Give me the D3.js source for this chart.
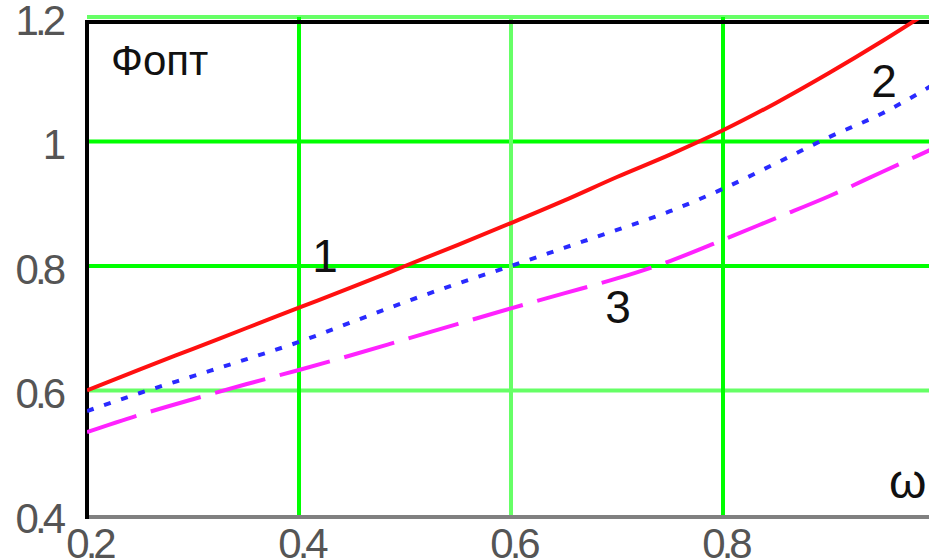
<!DOCTYPE html>
<html>
<head>
<meta charset="utf-8">
<script src="https://cdn.jsdelivr.net/npm/d3@7"></script>
<style>
  html, body { margin: 0; padding: 0; background: #ffffff; }
  svg { display: block; }
  text { font-family: "Liberation Sans", Arial, sans-serif; }
</style>
</head>
<body>
<svg id="chart" width="929" height="558"></svg>
<script>
// ---- data ----
const xValues = [0.2, 0.25, 0.3, 0.35, 0.4, 0.45, 0.5, 0.55, 0.6, 0.65, 0.7, 0.75, 0.8, 0.85, 0.9, 0.95, 1.0];
const series1 = [0.600, 0.634, 0.667, 0.700, 0.733, 0.766, 0.800, 0.834, 0.869, 0.905, 0.943, 0.979, 1.018, 1.062, 1.110, 1.161, 1.215];
const series2 = [0.567, 0.596, 0.623, 0.650, 0.678, 0.710, 0.742, 0.772, 0.800, 0.829, 0.858, 0.888, 0.924, 0.965, 1.007, 1.045, 1.093];
const series3 = [0.533, 0.561, 0.586, 0.610, 0.633, 0.657, 0.682, 0.707, 0.732, 0.756, 0.780, 0.808, 0.842, 0.877, 0.912, 0.951, 0.990];
const seriesNames = ["1", "2", "3"];
const xTicks = [0.2, 0.4, 0.6, 0.8];
const xTickLabels = ["0.2", "0.4", "0.6", "0.8"];
const yTicks = [0.4, 0.6, 0.8, 1.0, 1.2];
const yTickLabels = ["0.4", "0.6", "0.8", "1", "1.2"];
const yAxisTitle = "Фопт";
const xAxisTitle = "ω";

// ---- layout ----
const svg = d3.select("#chart");
const x = d3.scaleLinear().domain([0.2, 1.0]).range([87, 935]);
const y = d3.scaleLinear().domain([0.4, 1.2]).range([515, 17]);

// gridlines
const brightGreen = "#00ff00", lightGreen = "#66ff66";
const hGridColor = { "0.6": lightGreen, "0.8": brightGreen, "1": brightGreen, "1.2": lightGreen };
const vGridColor = { "0.4": brightGreen, "0.6": lightGreen, "0.8": brightGreen };

svg.append("g").selectAll("line").data(yTicks.filter(v => v > 0.4)).join("line")
  .attr("x1", x(0.2)).attr("x2", 929)
  .attr("y1", d => y(d)).attr("y2", d => y(d))
  .attr("stroke", d => hGridColor[String(+d.toFixed(1))])
  .attr("stroke-width", 4);

svg.append("g").selectAll("line").data(xTicks.filter(v => v > 0.2)).join("line")
  .attr("x1", d => x(d)).attr("x2", d => x(d))
  .attr("y1", y(1.2)).attr("y2", y(0.4))
  .attr("stroke", d => vGridColor[String(+d.toFixed(1))])
  .attr("stroke-width", 4);

// frame
svg.append("line").attr("x1", x(0.2) - 2).attr("x2", 929)
  .attr("y1", y(1.2) + 5).attr("y2", y(1.2) + 5)
  .attr("stroke", "#000").attr("stroke-width", 4);
svg.append("line").attr("x1", x(0.2) - 2).attr("x2", 929)
  .attr("y1", y(0.4) + 2).attr("y2", y(0.4) + 2)
  .attr("stroke", "#808080").attr("stroke-width", 4);
svg.append("line").attr("x1", x(0.2)).attr("x2", x(0.2))
  .attr("y1", y(1.2) + 3).attr("y2", y(0.4) + 4)
  .attr("stroke", "#000").attr("stroke-width", 4);

// curves
svg.append("clipPath").attr("id", "plotclip").append("rect")
  .attr("x", x(0.2)).attr("y", y(1.2) + 3)
  .attr("width", x(1.0) - x(0.2)).attr("height", y(0.4) - y(1.2) - 3);

const styles = [
  { color: "#ff1010", dash: null },
  { color: "#2a2aff", dash: "7,11" },
  { color: "#ff22ff", dash: "52,15" }
];
const allSeries = [series1, series2, series3];
const line = d3.line().x((d, i) => x(xValues[i])).y(d => y(d)).curve(d3.curveMonotoneX);

svg.append("g").attr("clip-path", "url(#plotclip)")
  .selectAll("path").data(allSeries).join("path")
  .attr("d", d => line(d))
  .attr("fill", "none")
  .attr("stroke", (d, i) => styles[i].color)
  .attr("stroke-width", 4)
  .attr("stroke-dasharray", (d, i) => styles[i].dash);

// axes (tick labels only)
const yAxis = svg.append("g").attr("transform", "translate(62,2)")
  .call(d3.axisLeft(y).tickValues(yTicks).tickFormat((d, i) => yTickLabels[i]).tickSize(0).tickPadding(0));
const xAxis = svg.append("g").attr("transform", "translate(2,528)")
  .call(d3.axisBottom(x).tickValues(xTicks).tickFormat((d, i) => xTickLabels[i]).tickSize(0).tickPadding(0));
[yAxis, xAxis].forEach(a => {
  a.select(".domain").remove();
  a.selectAll("text")
    .attr("font-family", "'Liberation Sans', Arial, sans-serif")
    .attr("font-size", 42)
    .attr("letter-spacing", "-4px")
    .attr("fill", "#555");
});
yAxis.selectAll("text").attr("dy", "0.36em");

// titles
svg.append("text").attr("x", 111).attr("y", 75)
  .attr("font-size", 42).attr("fill", "#111").text(yAxisTitle);
svg.append("text").attr("x", 889).attr("y", 498)
  .attr("font-size", 48).attr("fill", "#111").text(xAxisTitle);

// curve labels
const labelPos = [
  { xv: 0.4245, yv: 0.790 },
  { xv: 0.952, yv: 1.071 },
  { xv: 0.701, yv: 0.708 }
];
svg.append("g").selectAll("text").data(seriesNames).join("text")
  .attr("x", (d, i) => x(labelPos[i].xv))
  .attr("y", (d, i) => y(labelPos[i].yv))
  .attr("text-anchor", "middle")
  .attr("font-size", 46)
  .attr("fill", "#111")
  .text(d => d);
</script>
</body>
</html>
